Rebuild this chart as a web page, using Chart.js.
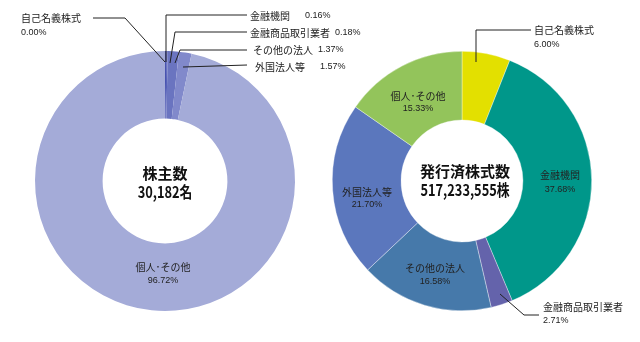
<!DOCTYPE html>
<html>
<head>
<meta charset="utf-8">
<script src="https://cdn.jsdelivr.net/npm/chart.js@4/dist/chart.umd.min.js"></script>
<style>
  html, body { margin: 0; padding: 0; background: #fff; }
  #wrap { position: relative; width: 640px; height: 342px; }
  canvas { position: absolute; left: 0; top: 0; }
</style>
</head>
<body>
<div id="wrap">
  <canvas id="c1" width="640" height="342"></canvas>
  <canvas id="c2" width="640" height="342"></canvas>
</div>
<script>
// ---- data ----
const categories = ['自己名義株式', '金融機関', '金融商品取引業者', 'その他の法人', '外国法人等', '個人･その他'];
const shareholderPct = [0.00, 0.16, 0.18, 1.37, 1.57, 96.72];
const sharesPct = [6.00, 37.68, 2.71, 16.58, 21.70, 15.33];
const shareholderTitle = ['株主数', '30,182名'];
const sharesTitle = ['発行済株式数', '517,233,555株'];

const leftColors = ['#3c47a6', '#4853b0', '#5862b8', '#6a74c0', '#8189cb', '#a4abd8'];
const rightColors = ['#e3e000', '#00978a', '#6463ab', '#4679aa', '#5b77bd', '#93c45b'];

const JP = '"Noto Sans CJK JP", "Noto Sans", sans-serif';
const PCT = '"Liberation Sans", "Noto Sans CJK JP", sans-serif';

function fmt(v) { return v.toFixed(2) + '%'; }

function condensedText(ctx, text, x, y, sx) {
  ctx.save();
  ctx.translate(x, y);
  ctx.scale(sx, 1);
  ctx.fillText(text, 0, 0);
  ctx.restore();
}

const labelPlugin = {
  id: 'labelPlugin',
  afterDraw(chart, args, opts) {
    const ctx = chart.ctx;
    const data = chart.data.datasets[0].data;
    const labels = chart.data.labels;
    ctx.save();
    // center title
    ctx.fillStyle = '#111';
    ctx.textAlign = 'center';
    ctx.textBaseline = 'middle';
    ctx.font = 'bold ' + opts.titleSize + 'px ' + JP;
    ctx.fillText(opts.title[0], opts.titlePos[0], opts.titlePos[1]);
    ctx.font = 'bold ' + (opts.titleSize + 1) + 'px ' + JP;
    condensedText(ctx, opts.title[1], opts.titlePos[0], opts.titlePos[1] + opts.titleGap, 0.8);
    // labels
    opts.items.forEach(it => {
      const name = labels[it.i];
      const pct = fmt(data[it.i]);
      if (it.line) {
        ctx.strokeStyle = '#222';
        ctx.lineWidth = 1;
        ctx.beginPath();
        it.line.forEach((p, k) => k ? ctx.lineTo(p[0], p[1]) : ctx.moveTo(p[0], p[1]));
        ctx.stroke();
      }
      ctx.fillStyle = '#222';
      ctx.textBaseline = 'middle';
      ctx.textAlign = it.align || 'center';
      ctx.font = '10px ' + JP;
      ctx.fillText(name, it.name[0], it.name[1]);
      ctx.font = '9px ' + PCT;
      ctx.fillText(pct, it.pct[0], it.pct[1]);
    });
    ctx.restore();
  }
};

function makeChart(id, values, colors, padding, cutout, border, pluginOpts) {
  return new Chart(document.getElementById(id), {
    type: 'doughnut',
    data: {
      labels: categories,
      datasets: [{
        data: values,
        backgroundColor: colors,
        borderColor: 'rgba(255,255,255,0.6)',
        borderWidth: border
      }]
    },
    options: {
      responsive: false,
      animation: false,
      cutout: cutout,
      layout: { padding: padding },
      events: [],
      plugins: {
        legend: { display: false },
        tooltip: { enabled: false },
        labelPlugin: pluginOpts
      }
    },
    plugins: [labelPlugin]
  });
}

makeChart('c1', shareholderPct, leftColors,
  { left: 35, right: 345, top: 51, bottom: 31 }, '48%', 0, {
    title: shareholderTitle, titlePos: [165, 173], titleGap: 19, titleSize: 15,
    items: [
      { i: 0, align: 'left', name: [21, 18], pct: [21, 33], line: [[93, 18], [125, 18], [165, 62]] },
      { i: 1, align: 'left', name: [250, 16], pct: [305, 16], line: [[166, 62], [166, 15], [247, 15]] },
      { i: 2, align: 'left', name: [250, 33], pct: [335, 33], line: [[170, 63], [175, 32], [247, 32]] },
      { i: 3, align: 'left', name: [253, 50], pct: [318, 50], line: [[175, 63], [180, 50], [247, 50]] },
      { i: 4, align: 'left', name: [255, 67], pct: [320, 67], line: [[183, 67], [247, 65]] },
      { i: 5, name: [163, 267], pct: [163, 281] }
    ]
  });

makeChart('c2', sharesPct, rightColors,
  { left: 332, right: 48, top: 51, bottom: 31 }, '47%', 0.6, {
    title: sharesTitle, titlePos: [465, 171], titleGap: 19, titleSize: 15,
    items: [
      { i: 0, align: 'left', name: [534, 30], pct: [534, 45], line: [[476, 62], [476, 30], [531, 30]] },
      { i: 1, name: [560, 175], pct: [560, 190] },
      { i: 2, align: 'left', name: [543, 307], pct: [543, 321], line: [[500, 294], [524, 315], [539, 315]] },
      { i: 3, name: [435, 268], pct: [435, 282] },
      { i: 4, name: [367, 192], pct: [367, 205] },
      { i: 5, name: [418, 96], pct: [418, 109] }
    ]
  });
</script>
</body>
</html>
